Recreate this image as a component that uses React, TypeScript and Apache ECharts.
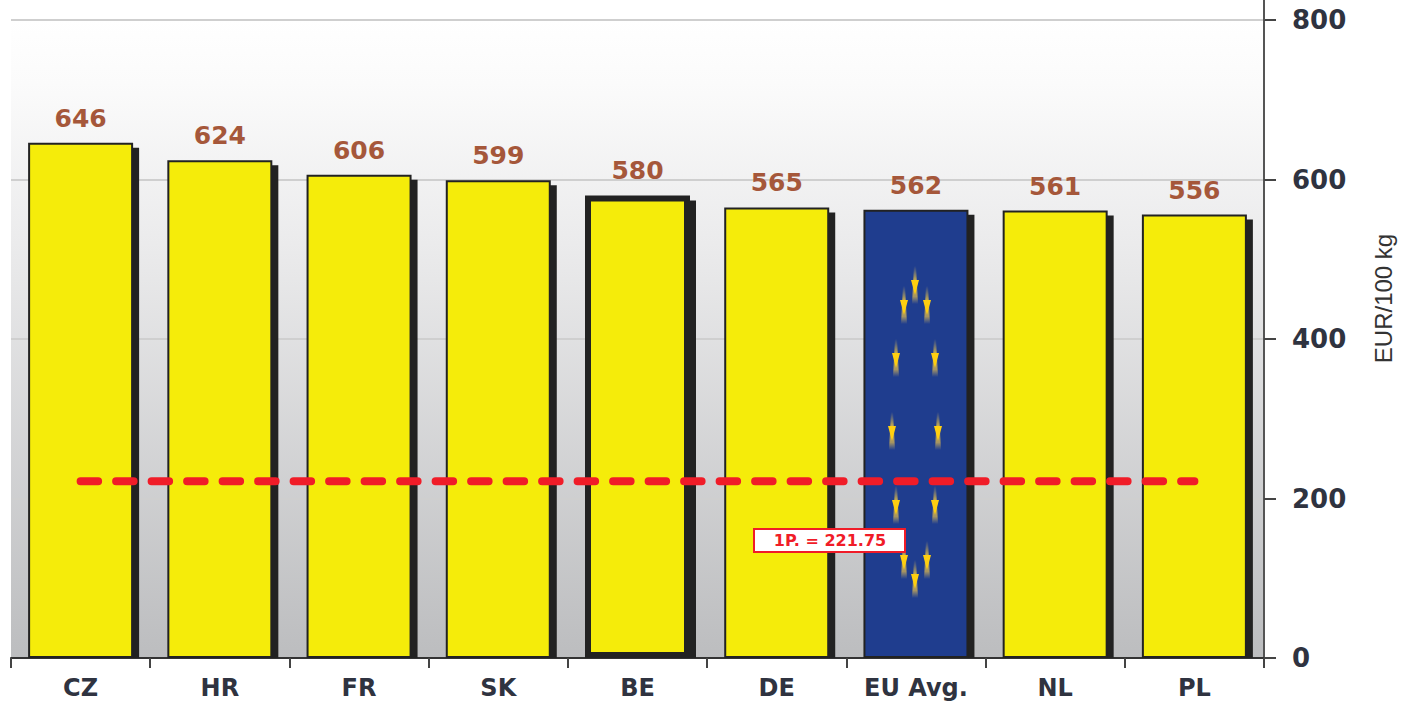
import React, { useEffect, useRef } from "react";
import * as echarts from "echarts";

const categories = ["CZ", "HR", "FR", "SK", "BE", "DE", "EU Avg.", "NL", "PL"];
const values = [646, 624, 606, 599, 580, 565, 562, 561, 556];
const referenceLevel = 221.75;
const referenceValues = categories.map(() => referenceLevel);
const referenceLabel = "1P. = 221.75";
const highlighted = "BE";
const average = "EU Avg.";
const starCentres: [number, number][] = [
  [915, 283], [904, 303], [927, 303], [896, 356], [935, 356], [892, 429],
  [938, 429], [896, 503], [935, 503], [904, 558], [927, 558], [915, 577],
];

const BAR_WIDTH = 105;

const streak = {
  type: "linear", x: 0, y: 0, x2: 0, y2: 1,
  colorStops: [
    { offset: 0, color: "rgba(190,170,110,0)" },
    { offset: 0.35, color: "rgba(225,190,70,0.8)" },
    { offset: 0.8, color: "rgba(215,180,80,0.75)" },
    { offset: 1, color: "rgba(190,170,110,0)" },
  ],
};

const stars = starCentres.flatMap(([x, y]) => [
  { type: "polygon", z: 3, silent: true, shape: { points: [[x - 1, y - 17], [x + 1, y - 17], [x + 3, y + 21], [x - 3, y + 21]] }, style: { fill: streak } },
  { type: "polygon", z: 3, silent: true, shape: { points: [[x - 4, y - 3], [x + 4, y - 3], [x, y + 12]] }, style: { fill: "#ffcf10" } },
]);

function renderShadow(_params: any, api: any) {
  const [x, y] = api.coord([api.value(0), api.value(1)]);
  const [, base] = api.coord([api.value(0), 0]);
  return {
    type: "rect",
    z2: 0,
    shape: { x: x - BAR_WIDTH / 2 + 6, y: y + 5, width: BAR_WIDTH, height: base - y - 5 },
    style: { fill: "#222" },
  };
}

export default function App() {
  const ref = useRef<HTMLDivElement>(null);
  useEffect(() => {
    const chart = echarts.init(ref.current!, undefined, { renderer: "svg" });
    chart.setOption({
      animation: false,
      grid: {
        left: 11, right: 138, top: 20, bottom: 44, show: true, borderWidth: 0,
        outerBoundsMode: "none",
        backgroundColor: {
          type: "linear", x: 0, y: 0, x2: 0, y2: 1,
          colorStops: [
            { offset: 0, color: "#ffffff" },
            { offset: 0.1, color: "#fbfbfb" },
            { offset: 0.35, color: "#ebebec" },
            { offset: 1, color: "#bcbdbf" },
          ],
        },
      },
      xAxis: {
        type: "category",
        data: categories,
        axisLine: { lineStyle: { color: "#333", width: 2 } },
        axisTick: { show: true, alignWithLabel: false, length: 10, lineStyle: { color: "#444", width: 2 } },
        axisLabel: { interval: 0, margin: 18, color: "#2f3340", fontFamily: "DejaVu Sans", fontWeight: "bold", fontSize: 24 },
      },
      yAxis: {
        type: "value",
        position: "right",
        min: 0,
        max: 800,
        interval: 200,
        name: "EUR/100 kg",
        nameLocation: "middle",
        nameRotate: 90,
        nameGap: 107,
        nameTextStyle: { color: "#333", fontFamily: "Liberation Sans", fontSize: 24, padding: [0, 0, 0, 81] },
        axisLine: { show: true, lineStyle: { color: "#555", width: 2 } },
        axisTick: { show: true, length: 12, lineStyle: { color: "#444", width: 2 } },
        axisLabel: { margin: 28, color: "#2f3340", fontFamily: "DejaVu Sans", fontWeight: "bold", fontSize: 26 },
        splitLine: { show: true, lineStyle: { color: "#cfcfcf", width: 2 } },
      },
      series: [
        {
          type: "custom",
          z: 1,
          silent: true,
          renderItem: renderShadow,
          encode: { x: 0, y: 1 },
          data: values.map((v, i) => [i, v]),
        },
        {
          type: "bar",
          barWidth: BAR_WIDTH,
          z: 2,
          data: values.map((value, i) => {
            const name = categories[i];
            return {
              value,
              itemStyle: {
                color: name === average ? "#1f3d8e" : "#f5ec0a",
                borderColor: "#222",
                borderWidth: name === highlighted ? 6 : 2,
              },
            };
          }),
          label: { show: true, position: "top", distance: 12, color: "#a5573a", fontFamily: "DejaVu Sans", fontWeight: "bold", fontSize: 25 },
        },
        {
          type: "line",
          z: 5,
          data: referenceValues,
          symbol: "none",
          lineStyle: { color: "#f01c28", width: 8, type: [17.5, 18], cap: "round" },
        },
      ],
      graphic: [
        { type: "line", z: 1, silent: true, shape: { x1: 1264, y1: 0, x2: 1264, y2: 20 }, style: { stroke: "#555", lineWidth: 2 } },
        ...stars,
        { type: "rect", z: 8, silent: true, shape: { x: 754, y: 529, width: 151, height: 23 }, style: { fill: "#fff", stroke: "#f01c28", lineWidth: 2 } },
        { type: "text", z: 9, silent: true, x: 830, y: 540.5, style: { text: referenceLabel, fill: "#f01c28", font: "bold 16px 'DejaVu Sans'", align: "center", verticalAlign: "middle" } },
      ],
    });
    return () => chart.dispose();
  }, []);
  return <div ref={ref} style={{ position: "absolute", left: 0, top: 0, width: 1402, height: 702 }} />;
}
